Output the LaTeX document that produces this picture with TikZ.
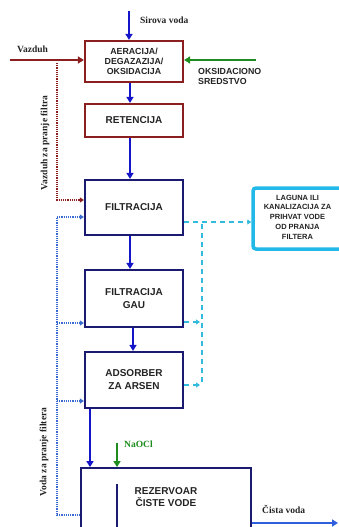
\documentclass[tikz,border=0pt]{standalone}
\usepackage{fontspec}
\setmainfont{Liberation Sans}
\newfontfamily\serifb{Liberation Serif}
\usetikzlibrary{arrows.meta}
\definecolor{dred}{RGB}{139,30,30}
\definecolor{navy}{RGB}{26,26,112}
\definecolor{barr}{RGB}{20,20,200}
\definecolor{garr}{RGB}{30,140,30}
\definecolor{cyanbox}{RGB}{34,184,232}
\definecolor{cyandash}{RGB}{51,187,221}
\definecolor{dotblue}{RGB}{58,107,208}
\definecolor{cvblue}{RGB}{47,95,221}
\definecolor{txt}{RGB}{35,35,35}
\tikzset{
  redbox/.style={draw=dred, line width=2.2pt, fill=white, align=center, font=\bfseries, text=txt, inner sep=0pt},
  navybox/.style={draw=navy, line width=2.2pt, fill=white, align=center, font=\fontsize{10}{13}\selectfont\bfseries, text=txt, inner sep=0pt},
  mainarr/.style={draw=barr, line width=2.4pt, -{Triangle[length=6pt,width=7pt]}},
  greenarr/.style={draw=garr, line width=2.4pt, -{Triangle[length=6pt,width=7pt]}},
  redarr/.style={draw=dred, line width=2.4pt, -{Triangle[length=6pt,width=7pt]}},
  reddot/.style={draw=dred, line width=1.8pt, dash pattern=on 1.2pt off 1pt, -{Triangle[length=4pt,width=5pt]}},
  bluedot/.style={draw=dotblue, line width=1.8pt, dash pattern=on 1.2pt off 1pt},
  bluedotarr/.style={bluedot, -{Triangle[length=4pt,width=5pt]}},
  cdash/.style={draw=cyandash, line width=2pt, dash pattern=on 5pt off 4pt},
  cdasharr/.style={cdash, -{Triangle[length=4pt,width=5pt]}},
  lbl/.style={font=\serifb\bfseries\fontsize{9.5}{11}\selectfont, text=txt, inner sep=0pt},
}
\begin{document}
\begin{tikzpicture}[x=1pt,y=-1pt]
\useasboundingbox (0,0) rectangle (339,527);
% boxes
\node[redbox, minimum width=98pt, minimum height=41pt, font=\fontsize{8.8}{10}\selectfont\bfseries] (b1) at (134,61.5) {AERACIJA/\\DEGAZAZIJA/\\OKSIDACIJA};
\node[redbox, minimum width=98pt, minimum height=33pt, font=\fontsize{10}{12}\selectfont\bfseries] (b2) at (134,120.5) {RETENCIJA};
\node[navybox, minimum width=98pt, minimum height=55pt] (b3) at (134,207.5) {FILTRACIJA};
\node[navybox, minimum width=98pt, minimum height=57pt] (b4) at (134,298.5) {FILTRACIJA\\GAU};
\node[navybox, minimum width=98pt, minimum height=56pt] (b5) at (134,380) {ADSORBER\\ZA ARSEN};
\node[draw=navy, line width=1.8pt, minimum width=170pt, minimum height=77pt, inner sep=0pt] (b6) at (166,506.5) {};
\node[font=\fontsize{10}{11.5}\selectfont\bfseries, text=txt, align=center, inner sep=0pt] (b6t) at (166,497) {REZERVOAR\\ČISTE VODE};
\coordinate (wallt) at (117,484);
\coordinate (wallb) at (117,545);
\draw[navy, line width=1.8pt] (wallt) -- (wallb);
\node[draw=cyanbox, line width=3.5pt, rounded corners=3pt, minimum width=92pt, minimum height=61pt, inner sep=0pt] (lag) at (299,218.5) {};
\node[font=\fontsize{7.5}{9.7}\selectfont\bfseries, text=txt, align=center, inner sep=0pt] (lagt) at (297.5,217) {LAGUNA ILI\\KANALIZACIJA ZA\\PRIHVAT VODE\\OD PRANJA\\FILTERA};
% labels
\node[lbl, anchor=west] (lsv) at (140,20) {Sirova voda};
\node[lbl, anchor=west] (lvz) at (17,49) {Vazduh};
\node[font=\fontsize{8.8}{10}\selectfont\bfseries, text=txt, align=left, anchor=west, inner sep=0pt] (lox) at (198,76.5) {OKSIDACIONO\\SREDSTVO};
\node[lbl, rotate=90] (lvzf) at (45,143) {Vazduh za pranje filtra};
\node[lbl, rotate=90] (lvdf) at (44,452) {Voda za pranje filtera};
\node[lbl, text=garr, anchor=west] (lna) at (124,444) {NaOCl};
\node[lbl, anchor=west] (lcv) at (262,509) {Čista voda};
% main flow
\coordinate (sv) at (129,11);
\draw[mainarr] (sv) -- (sv |- b1.north);
\draw[mainarr] ([xshift=-4pt]b1.south) -- ([xshift=-4pt]b2.north);
\draw[mainarr] ([xshift=-4pt]b2.south) -- ([xshift=-4pt]b3.north);
\draw[mainarr] ([xshift=-4pt]b3.south) -- ([xshift=-4pt]b4.north);
\draw[mainarr] ([xshift=-1pt]b4.south) -- ([xshift=-1pt]b5.north);
\coordinate (x90) at (90,0);
\draw[mainarr] (x90 |- b5.south) -- (x90 |- b6.north);
% air and oxidant
\coordinate (vz) at (10,60);
\draw[redarr] (vz) -- (vz -| b1.west);
\coordinate (ox) at (256,60);
\draw[greenarr] (ox) -- (ox -| b1.east);
% NaOCl
\coordinate (na) at (117,443);
\draw[greenarr] (na) -- (na |- b6.north);
% clean water out
\coordinate (cv) at (338,523);
\draw[draw=cvblue, line width=2.4pt, -{Triangle[length=6pt,width=7pt]}] (cv -| b6.east) -- (cv);
% air for filter washing
\coordinate (ra) at (57,63);
\coordinate (rb) at (57,200);
\draw[reddot] (ra) -- (rb) -- (rb -| b3.west);
% water for filter washing
\coordinate (wb) at (57,515);
\coordinate (w3) at (57,217);
\coordinate (w4) at (57,323);
\coordinate (w5) at (57,401);
\draw[bluedot] (wb -| b6.west) -- (wb) -- (w3);
\draw[bluedotarr] (w3) -- (w3 -| b3.west);
\draw[bluedotarr] (w4) -- (w4 -| b4.west);
\draw[bluedotarr] (w5) -- (w5 -| b5.west);
% backwash to lagoon
\coordinate (c1) at (202,222);
\coordinate (c4) at (200,322);
\coordinate (c5) at (200,385);
\coordinate (cb) at (202,382);
\draw[cdasharr] (c1 -| b3.east) -- (c1 -| lag.west);
\draw[cdash] (cb) -- (c1);
\draw[cdasharr] (c4 -| b4.east) -- (c4);
\draw[cdasharr] (c5 -| b5.east) -- (c5);
\end{tikzpicture}
\end{document}
